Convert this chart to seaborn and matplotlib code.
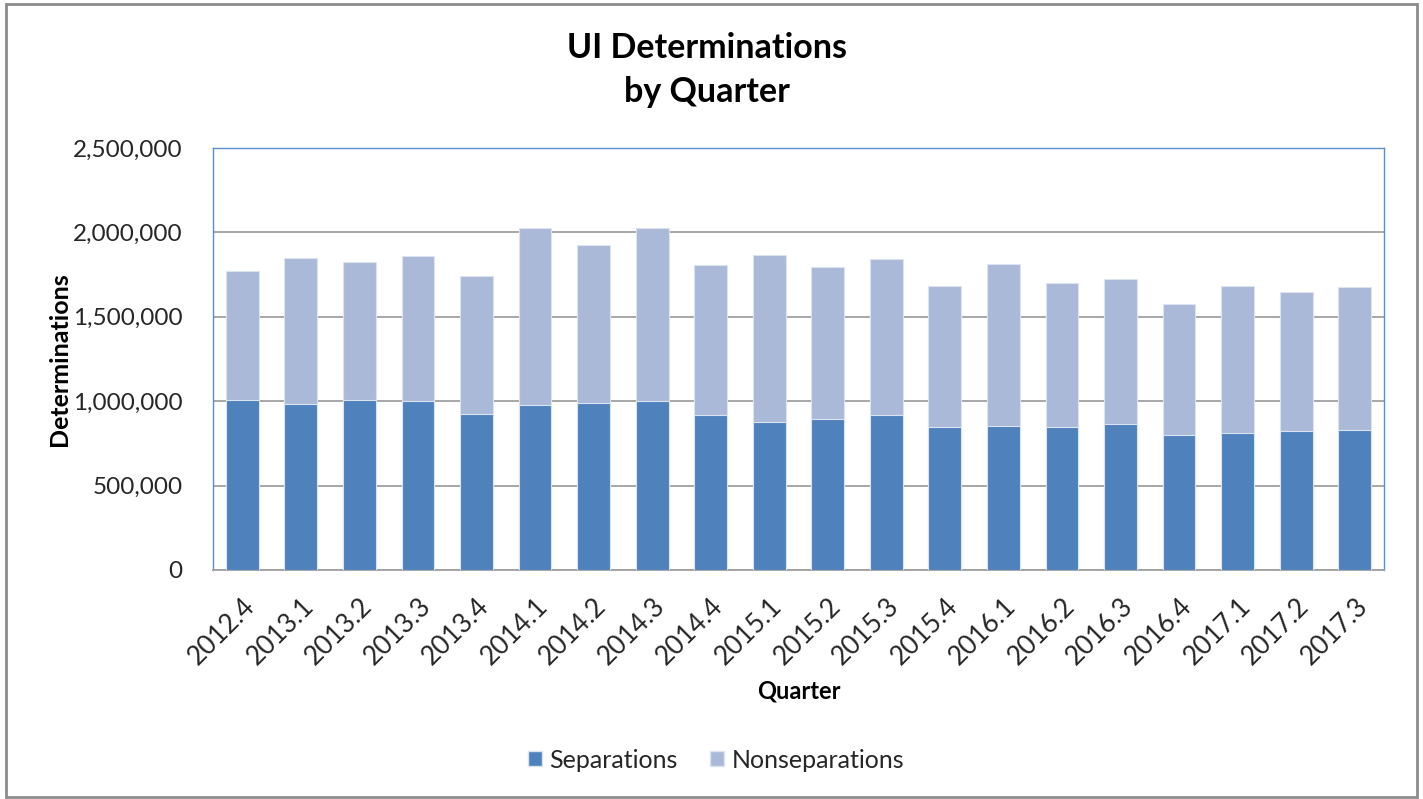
import matplotlib
matplotlib.use("Agg")
import matplotlib.pyplot as plt
import seaborn as sns
import pandas as pd
import numpy as np
from matplotlib.patches import Rectangle, Patch
from matplotlib.ticker import FuncFormatter

quarters = ["2012.4", "2013.1", "2013.2", "2013.3", "2013.4", "2014.1", "2014.2",
            "2014.3", "2014.4", "2015.1", "2015.2", "2015.3", "2015.4", "2016.1",
            "2016.2", "2016.3", "2016.4", "2017.1", "2017.2", "2017.3"]
separations = [1008000, 984000, 1008000, 999000, 925000, 978000, 992000,
               999000, 917000, 877000, 893000, 917000, 848000, 855000,
               848000, 863000, 802000, 810000, 824000, 832000]
nonseparations = [765000, 864000, 819000, 859000, 817000, 1046000, 933000,
                  1025000, 888000, 989000, 902000, 925000, 835000, 958000,
                  850000, 859000, 774000, 873000, 821000, 845000]

df = pd.DataFrame({"Quarter": quarters,
                   "Separations": separations,
                   "Nonseparations": nonseparations})
df["Total"] = df["Separations"] + df["Nonseparations"]

sns.set_theme(style="white")
plt.rcParams["font.family"] = ["Lato", "DejaVu Sans"]

c_sep = "#4F81BD"
c_non = "#AAB9D7"

fig = plt.figure(figsize=(14.23, 7.99), dpi=100)
ax = fig.add_axes([213 / 1423, 1 - 570 / 799, (1384 - 213) / 1423, (570 - 148) / 799])

sns.barplot(data=df, x="Quarter", y="Total", color=c_non, width=0.56,
            edgecolor="#DCE3F0", linewidth=0.8, saturation=1, ax=ax, zorder=3)
sns.barplot(data=df, x="Quarter", y="Separations", color=c_sep, width=0.56,
            edgecolor="#DCE3F0", linewidth=0.8, saturation=1, ax=ax, zorder=4)

ax.set_ylim(0, 2500000)
ax.set_xlim(-0.5, len(quarters) - 0.5)
ax.set_yticks([0, 500000, 1000000, 1500000, 2000000, 2500000])
ax.yaxis.set_major_formatter(FuncFormatter(lambda v, p: f"{int(v):,}"))
ax.grid(axis="y", color="#A0A0A0", linewidth=1.3, zorder=0)
ax.set_axisbelow(True)

for s in ["top", "right", "left"]:
    ax.spines[s].set_color("#5B8FCB")
    ax.spines[s].set_linewidth(1.0)
ax.spines["bottom"].set_color("#A0A0A0")
ax.spines["bottom"].set_linewidth(1.3)

ax.tick_params(axis="y", labelsize=17.5, colors="#262626", pad=22, length=0)
ax.tick_params(axis="x", labelsize=19, colors="#262626", pad=17, length=0)
plt.setp(ax.get_xticklabels(), rotation=45, ha="right", rotation_mode="anchor")

ax.set_xlabel("Quarter", fontsize=17, fontweight="bold", color="black", labelpad=7)
ax.set_ylabel("Determinations", fontsize=18, fontweight="bold", color="black")
ax.yaxis.set_label_coords((71 - 213) / 1171, 0.5)

fig.text(0.497, 1 - 70 / 799, "UI Determinations\nby Quarter", ha="center", va="center",
         fontsize=24.5, fontweight="bold", color="black", linespacing=1.5)

handles = [Patch(facecolor=c_sep, edgecolor="#DCE3F0", label="Separations"),
           Patch(facecolor=c_non, edgecolor="#DCE3F0", label="Nonseparations")]
fig.legend(handles=handles, loc="center", bbox_to_anchor=(0.503, 1 - 760 / 799),
           ncol=2, frameon=False, fontsize=18, handlelength=0.56, handleheight=0.56,
           handletextpad=0.3, columnspacing=1.3)

fig.patches.append(Rectangle((6 / 1423, 2 / 799), 1 - 12 / 1423, 1 - 6 / 799,
                             transform=fig.transFigure, fill=False,
                             edgecolor="#8C8C8C", linewidth=2))

fig.savefig("out.png", dpi=100, facecolor="white")
